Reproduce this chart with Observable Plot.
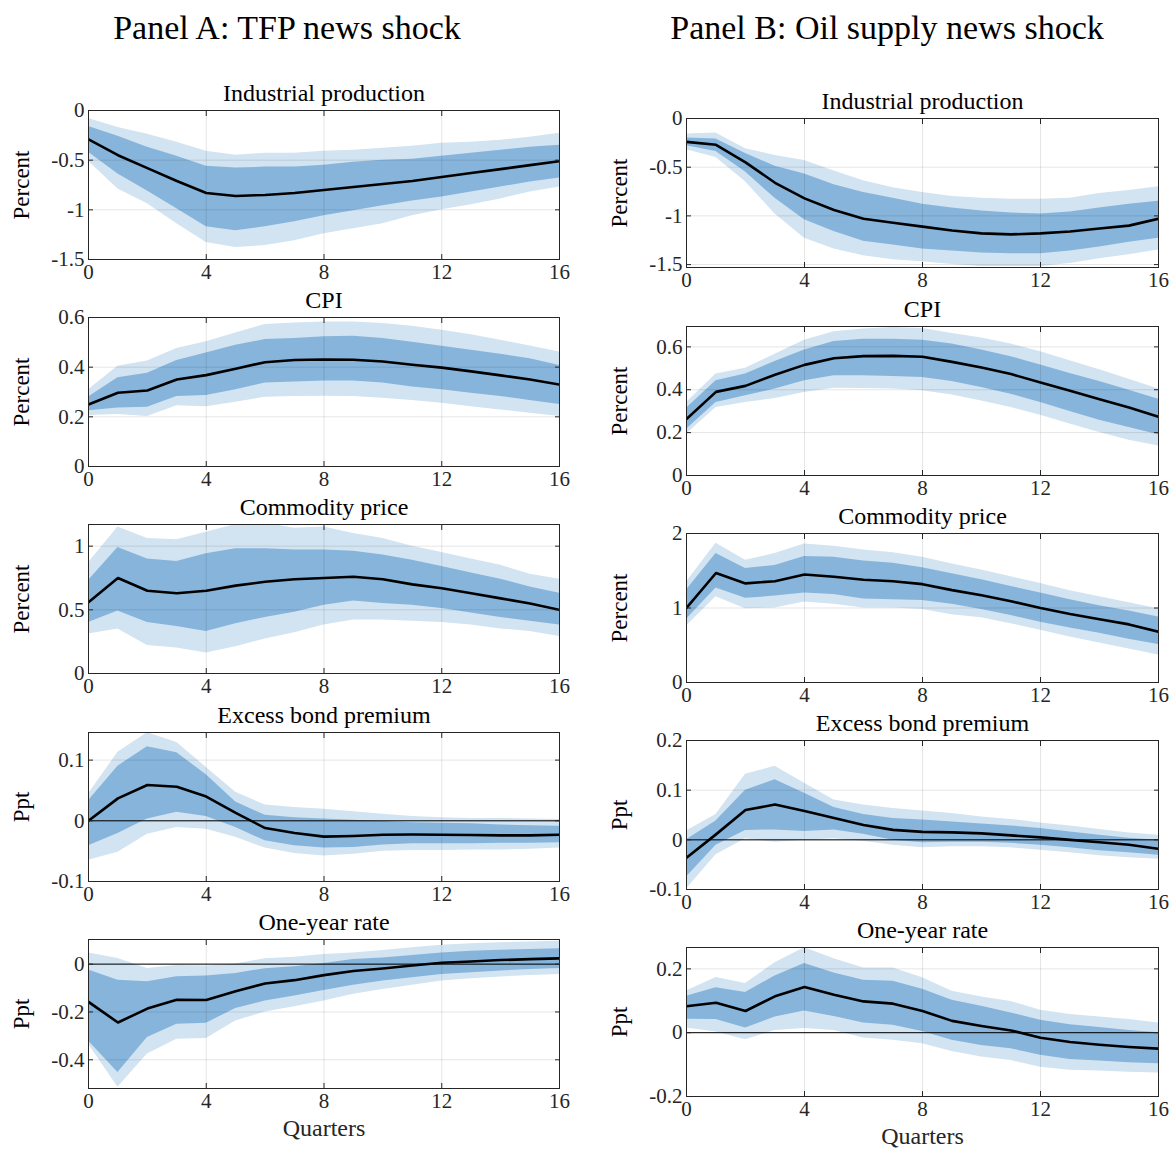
<!DOCTYPE html>
<html><head><meta charset="utf-8">
<script src="https://cdn.jsdelivr.net/npm/d3@7"></script>
<script src="https://cdn.jsdelivr.net/npm/@observablehq/plot@0.6"></script>
<style>
body{margin:0;background:#fff;}
#root{position:relative;width:1171px;height:1149px;font-family:"Liberation Serif",serif;color:#000;background:#fff;overflow:hidden;}
.ptitle{position:absolute;font-size:34px;white-space:nowrap;transform:translateX(-50%);line-height:1;}
.panel{position:absolute;}
</style></head><body><div id="root"></div>
<script>
// ---------- DATA ----------
const quarters = [0,1,2,3,4,5,6,7,8,9,10,11,12,13,14,15,16];
const xTickValues = [0,4,8,12,16];
const panelTitles = ["Panel A: TFP news shock", "Panel B: Oil supply news shock"];
const variableNames = ["Industrial production", "CPI", "Commodity price", "Excess bond premium", "One-year rate"];
const unitLabels = ["Percent", "Percent", "Percent", "Ppt", "Ppt"];

// Panel A: TFP news shock
const tfpIP_med  = [-0.29,-0.45,-0.58,-0.71,-0.83,-0.86,-0.85,-0.83,-0.80,-0.77,-0.74,-0.71,-0.67,-0.63,-0.59,-0.55,-0.51];
const tfpIP_hi68 = [-0.16,-0.26,-0.37,-0.46,-0.56,-0.58,-0.57,-0.57,-0.55,-0.52,-0.50,-0.49,-0.46,-0.43,-0.40,-0.37,-0.35];
const tfpIP_lo68 = [-0.42,-0.64,-0.81,-0.99,-1.17,-1.21,-1.17,-1.12,-1.06,-1.01,-0.96,-0.91,-0.87,-0.82,-0.77,-0.72,-0.68];
const tfpIP_hi90 = [-0.08,-0.17,-0.24,-0.32,-0.41,-0.45,-0.43,-0.43,-0.41,-0.40,-0.38,-0.36,-0.33,-0.32,-0.30,-0.27,-0.23];
const tfpIP_lo90 = [-0.51,-0.79,-0.94,-1.14,-1.33,-1.38,-1.36,-1.31,-1.24,-1.19,-1.14,-1.06,-1.00,-0.95,-0.89,-0.82,-0.77];

const tfpCPI_med  = [0.25,0.297,0.306,0.35,0.368,0.394,0.42,0.429,0.431,0.43,0.423,0.41,0.398,0.383,0.367,0.35,0.33];
const tfpCPI_hi68 = [0.28,0.357,0.376,0.427,0.457,0.488,0.511,0.515,0.522,0.524,0.515,0.50,0.484,0.468,0.452,0.434,0.407];
const tfpCPI_lo68 = [0.225,0.236,0.239,0.282,0.286,0.309,0.336,0.34,0.344,0.344,0.336,0.32,0.309,0.295,0.282,0.266,0.25];
const tfpCPI_hi90 = [0.309,0.404,0.425,0.475,0.502,0.538,0.572,0.578,0.582,0.582,0.576,0.565,0.549,0.531,0.508,0.485,0.461];
const tfpCPI_lo90 = [0.205,0.209,0.201,0.245,0.241,0.259,0.279,0.282,0.283,0.282,0.275,0.266,0.255,0.241,0.228,0.214,0.201];

const tfpCom_med  = [0.56,0.75,0.65,0.63,0.65,0.69,0.72,0.74,0.75,0.76,0.74,0.70,0.67,0.63,0.59,0.55,0.50];
const tfpCom_hi68 = [0.73,0.99,0.90,0.88,0.94,0.98,0.98,0.97,0.97,0.96,0.93,0.89,0.84,0.79,0.74,0.68,0.63];
const tfpCom_lo68 = [0.40,0.49,0.40,0.37,0.33,0.39,0.44,0.48,0.535,0.57,0.55,0.535,0.51,0.475,0.44,0.41,0.38];
const tfpCom_hi90 = [0.87,1.15,1.06,1.05,1.11,1.17,1.18,1.14,1.15,1.10,1.06,1.00,0.95,0.90,0.85,0.78,0.74];
const tfpCom_lo90 = [0.31,0.35,0.22,0.20,0.16,0.21,0.27,0.32,0.38,0.42,0.42,0.41,0.40,0.38,0.35,0.33,0.29];

const tfpEBP_med  = [0.0,0.037,0.059,0.056,0.040,0.013,-0.012,-0.020,-0.026,-0.025,-0.023,-0.0225,-0.023,-0.0235,-0.024,-0.024,-0.023];
const tfpEBP_hi68 = [0.033,0.09,0.122,0.112,0.076,0.031,0.009,0.005,0.003,0.001,-0.001,-0.003,-0.004,-0.005,-0.007,-0.008,-0.009];
const tfpEBP_lo68 = [-0.041,-0.021,0.003,0.014,0.007,-0.011,-0.033,-0.041,-0.045,-0.044,-0.040,-0.038,-0.038,-0.038,-0.037,-0.037,-0.036];
const tfpEBP_hi90 = [0.044,0.113,0.145,0.129,0.088,0.047,0.026,0.022,0.019,0.015,0.011,0.007,0.005,0.004,0.004,0.003,0.002];
const tfpEBP_lo90 = [-0.065,-0.052,-0.022,-0.011,-0.014,-0.027,-0.045,-0.054,-0.058,-0.055,-0.050,-0.049,-0.049,-0.048,-0.048,-0.047,-0.045];

const tfpRate_med  = [-0.158,-0.244,-0.186,-0.149,-0.150,-0.113,-0.081,-0.067,-0.046,-0.029,-0.018,-0.006,0.006,0.011,0.017,0.021,0.024];
const tfpRate_hi68 = [-0.025,-0.067,-0.074,-0.053,-0.050,-0.039,-0.019,-0.011,0.003,0.019,0.026,0.036,0.047,0.054,0.058,0.061,0.064];
const tfpRate_lo68 = [-0.321,-0.453,-0.307,-0.251,-0.247,-0.186,-0.154,-0.133,-0.11,-0.088,-0.071,-0.057,-0.043,-0.036,-0.029,-0.022,-0.018];
const tfpRate_hi90 = [0.047,0.024,-0.018,-0.006,-0.008,0.001,0.022,0.029,0.040,0.047,0.057,0.068,0.079,0.085,0.089,0.093,0.096];
const tfpRate_lo90 = [-0.335,-0.515,-0.376,-0.314,-0.311,-0.238,-0.200,-0.178,-0.154,-0.126,-0.106,-0.088,-0.071,-0.061,-0.054,-0.047,-0.043];

// Panel B: Oil supply news shock
const oilIP_med  = [-0.24,-0.27,-0.45,-0.66,-0.82,-0.94,-1.03,-1.07,-1.11,-1.15,-1.18,-1.19,-1.18,-1.16,-1.13,-1.10,-1.03];
const oilIP_hi68 = [-0.20,-0.21,-0.36,-0.49,-0.57,-0.68,-0.76,-0.82,-0.88,-0.92,-0.95,-0.97,-0.98,-0.96,-0.92,-0.88,-0.85];
const oilIP_lo68 = [-0.28,-0.34,-0.55,-0.82,-1.04,-1.16,-1.26,-1.30,-1.34,-1.36,-1.38,-1.39,-1.39,-1.36,-1.32,-1.27,-1.23];
const oilIP_hi90 = [-0.16,-0.15,-0.31,-0.38,-0.43,-0.54,-0.64,-0.71,-0.76,-0.80,-0.82,-0.83,-0.83,-0.82,-0.77,-0.74,-0.70];
const oilIP_lo90 = [-0.32,-0.40,-0.65,-0.98,-1.23,-1.34,-1.41,-1.45,-1.47,-1.50,-1.52,-1.52,-1.52,-1.49,-1.44,-1.40,-1.35];

const oilCPI_med  = [0.263,0.39,0.418,0.47,0.516,0.547,0.557,0.558,0.554,0.53,0.504,0.473,0.434,0.395,0.356,0.317,0.274];
const oilCPI_hi68 = [0.314,0.442,0.473,0.532,0.585,0.625,0.635,0.635,0.631,0.613,0.585,0.554,0.516,0.476,0.439,0.398,0.356];
const oilCPI_lo68 = [0.216,0.341,0.372,0.403,0.442,0.465,0.465,0.462,0.457,0.439,0.411,0.379,0.341,0.299,0.258,0.224,0.19];
const oilCPI_hi90 = [0.34,0.473,0.50,0.566,0.631,0.67,0.683,0.69,0.686,0.662,0.641,0.613,0.577,0.535,0.493,0.449,0.403];
const oilCPI_lo90 = [0.193,0.317,0.341,0.359,0.387,0.407,0.406,0.403,0.395,0.375,0.348,0.317,0.281,0.24,0.20,0.165,0.138];

const oilCom_med  = [1.0,1.47,1.33,1.36,1.45,1.42,1.38,1.36,1.32,1.24,1.17,1.09,1.00,0.92,0.85,0.78,0.68];
const oilCom_hi68 = [1.24,1.73,1.53,1.57,1.69,1.68,1.63,1.60,1.54,1.46,1.38,1.29,1.20,1.11,1.03,0.96,0.88];
const oilCom_lo68 = [0.85,1.27,1.13,1.16,1.20,1.18,1.12,1.11,1.10,1.05,0.98,0.90,0.81,0.73,0.66,0.58,0.51];
const oilCom_hi90 = [1.35,1.87,1.64,1.73,1.86,1.83,1.78,1.74,1.68,1.59,1.51,1.42,1.33,1.23,1.15,1.07,0.99];
const oilCom_lo90 = [0.76,1.15,0.99,1.00,1.08,1.05,1.00,1.00,0.98,0.91,0.87,0.79,0.70,0.61,0.53,0.45,0.37];

const oilEBP_med  = [-0.036,0.011,0.060,0.071,0.058,0.044,0.030,0.020,0.016,0.015,0.013,0.009,0.005,0.0,-0.005,-0.010,-0.018];
const oilEBP_hi68 = [0.0,0.038,0.10,0.121,0.094,0.065,0.051,0.043,0.040,0.036,0.032,0.028,0.023,0.016,0.009,0.003,-0.001];
const oilEBP_lo68 = [-0.075,-0.011,0.019,0.020,0.017,0.020,0.011,-0.001,-0.006,-0.005,-0.005,-0.007,-0.011,-0.016,-0.022,-0.026,-0.031];
const oilEBP_hi90 = [0.018,0.051,0.132,0.148,0.114,0.080,0.070,0.063,0.058,0.053,0.046,0.041,0.034,0.028,0.021,0.014,0.009];
const oilEBP_lo90 = [-0.099,-0.030,0.002,-0.005,-0.001,0.002,-0.003,-0.011,-0.016,-0.014,-0.014,-0.016,-0.021,-0.026,-0.032,-0.036,-0.039];

const oilRate_med  = [0.083,0.094,0.068,0.114,0.143,0.119,0.098,0.091,0.068,0.037,0.021,0.007,-0.016,-0.029,-0.038,-0.045,-0.050];
const oilRate_hi68 = [0.114,0.141,0.126,0.178,0.217,0.187,0.164,0.161,0.136,0.102,0.083,0.062,0.039,0.025,0.016,0.007,0.0];
const oilRate_lo68 = [0.042,0.041,0.015,0.049,0.068,0.051,0.030,0.023,0.004,-0.024,-0.040,-0.050,-0.071,-0.084,-0.089,-0.094,-0.097];
const oilRate_hi90 = [0.131,0.173,0.154,0.219,0.266,0.232,0.203,0.203,0.172,0.130,0.112,0.098,0.070,0.057,0.049,0.041,0.030];
const oilRate_lo90 = [0.015,0.002,-0.022,0.007,0.013,0.007,-0.017,-0.024,-0.035,-0.059,-0.076,-0.087,-0.108,-0.118,-0.120,-0.124,-0.126];

// axis limits and tick values (y)
const tfpDomains = [[-1.5,0],[0,0.6],[0,1.17],[-0.1,0.1455],[-0.52,0.103]];
const oilDomains = [[-1.53,0],[0,0.695],[0,2],[-0.1,0.2],[-0.2,0.267]];
const tfpYTicks = [[-1.5,-1,-0.5,0],[0,0.2,0.4,0.6],[0,0.5,1],[-0.1,0,0.1],[-0.4,-0.2,0]];
const oilYTicks = [[-1.5,-1,-0.5,0],[0,0.2,0.4,0.6],[0,1,2],[-0.1,0,0.1,0.2],[-0.2,0,0.2]];
const zeroLineRows = [3,4];

const tfpSeries = [
  [tfpIP_med,tfpIP_lo68,tfpIP_hi68,tfpIP_lo90,tfpIP_hi90],
  [tfpCPI_med,tfpCPI_lo68,tfpCPI_hi68,tfpCPI_lo90,tfpCPI_hi90],
  [tfpCom_med,tfpCom_lo68,tfpCom_hi68,tfpCom_lo90,tfpCom_hi90],
  [tfpEBP_med,tfpEBP_lo68,tfpEBP_hi68,tfpEBP_lo90,tfpEBP_hi90],
  [tfpRate_med,tfpRate_lo68,tfpRate_hi68,tfpRate_lo90,tfpRate_hi90]
];
const oilSeries = [
  [oilIP_med,oilIP_lo68,oilIP_hi68,oilIP_lo90,oilIP_hi90],
  [oilCPI_med,oilCPI_lo68,oilCPI_hi68,oilCPI_lo90,oilCPI_hi90],
  [oilCom_med,oilCom_lo68,oilCom_hi68,oilCom_lo90,oilCom_hi90],
  [oilEBP_med,oilEBP_lo68,oilEBP_hi68,oilEBP_lo90,oilEBP_hi90],
  [oilRate_med,oilRate_lo68,oilRate_hi68,oilRate_lo90,oilRate_hi90]
];

// ---------- LAYOUT / STYLE ----------
const DARK = "#86b4db", LIGHT = "#d2e3f1", AXIS = "#262626";
const colLeft = [88, 686], colRight = [559, 1158];
const rowTop = [[110,317,524,732,939],[118,326,533,740,947]];
const frameH = 149;
const titleX = [287, 887];
const ML = 80, MR = 12, MT = 34, MB = 50;

const root = document.getElementById("root");
panelTitles.forEach((t,c) => {
  const d = document.createElement("div");
  d.className = "ptitle";
  d.textContent = t;
  d.style.left = titleX[c] + "px";
  d.style.top = "11px";
  root.appendChild(d);
});

const fmt = d => String(d);

function makePanel(c, r) {
  const series = c === 0 ? tfpSeries[r] : oilSeries[r];
  const [med, lo68, hi68, lo90, hi90] = series;
  const rows = quarters.map((q,i) => ({q, med: med[i], lo68: lo68[i], hi68: hi68[i], lo90: lo90[i], hi90: hi90[i]}));
  const domain = c === 0 ? tfpDomains[r] : oilDomains[r];
  const yt = c === 0 ? tfpYTicks[r] : oilYTicks[r];
  const fw = colRight[c] - colLeft[c];
  const marks = [
    Plot.areaY(rows, {x: "q", y1: "lo90", y2: "hi90", fill: LIGHT, clip: true}),
    Plot.areaY(rows, {x: "q", y1: "lo68", y2: "hi68", fill: DARK, clip: true}),
    Plot.gridX(xTickValues, {stroke: "#000", strokeOpacity: 0.1}),
    Plot.gridY(yt, {stroke: "#000", strokeOpacity: 0.1}),
  ];
  if (zeroLineRows.includes(r)) marks.push(Plot.ruleY([0], {stroke: "#000", strokeWidth: 1}));
  marks.push(
    Plot.lineY(rows, {x: "q", y: "med", stroke: "#000", strokeWidth: 2.6, clip: true}),
    Plot.frame({stroke: AXIS, strokeWidth: 1}),
    Plot.axisX(xTickValues, {anchor: "bottom", tickSize: -5, tickFormat: () => "", label: null, stroke: AXIS}),
    Plot.axisX(xTickValues, {anchor: "top", tickSize: -5, tickFormat: () => "", label: null, stroke: AXIS}),
    Plot.axisY(yt, {anchor: "left", tickSize: -5, tickFormat: () => "", label: null, stroke: AXIS}),
    Plot.axisY(yt, {anchor: "right", tickSize: -5, tickFormat: () => "", label: null, stroke: AXIS}),
    Plot.axisX(xTickValues, {anchor: "bottom", tickSize: 0, tickPadding: 5, tickFormat: fmt, label: null, fontSize: 21, fill: AXIS}),
    Plot.axisY(yt, {anchor: "left", tickSize: 0, tickPadding: 4, tickFormat: fmt, label: null, fontSize: 21, fill: AXIS}),
    Plot.text([variableNames[r]], {frameAnchor: "top", lineAnchor: "middle", dy: -17, fontSize: 24, fill: "#000"}),
    Plot.text([unitLabels[r]], {frameAnchor: "left", textAnchor: "middle", lineAnchor: "middle", dx: -67, rotate: -90, fontSize: 23, fill: "#000"})
  );
  if (r === 4) marks.push(Plot.text(["Quarters"], {frameAnchor: "bottom", lineAnchor: "middle", dy: 40, fontSize: 24, fill: AXIS}));
  const svg = Plot.plot({
    width: fw + ML + MR,
    height: frameH + MT + MB,
    marginLeft: ML, marginRight: MR, marginTop: MT, marginBottom: MB,
    x: {domain: [0, 16]},
    y: {domain},
    style: {background: "transparent", fontFamily: "'Liberation Serif', serif", fontSize: "21px", overflow: "visible", color: "#000"},
    marks
  });
  const wrap = document.createElement("div");
  wrap.className = "panel";
  wrap.style.left = (colLeft[c] - ML) + "px";
  wrap.style.top = (rowTop[c][r] - MT) + "px";
  wrap.appendChild(svg);
  root.appendChild(wrap);
}

for (let c = 0; c < 2; c++) for (let r = 0; r < 5; r++) makePanel(c, r);
</script>
</body></html>
